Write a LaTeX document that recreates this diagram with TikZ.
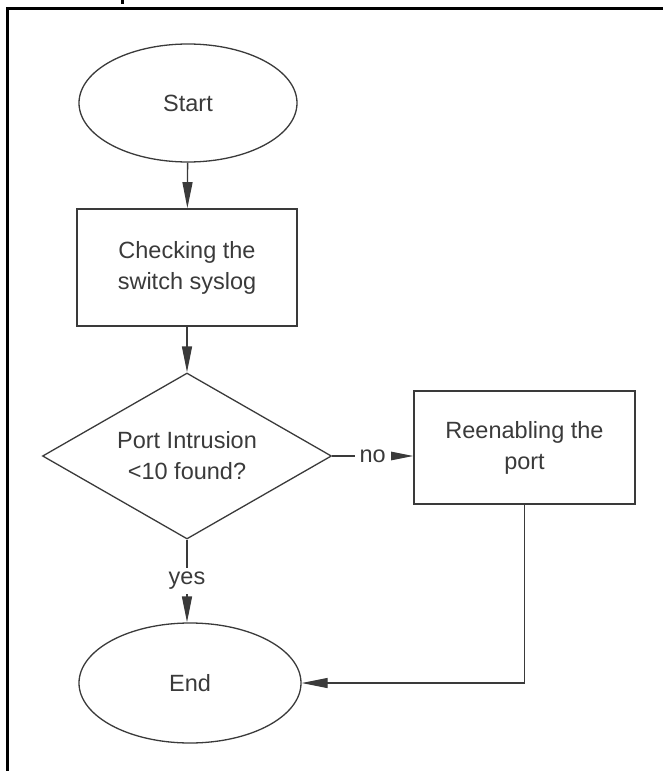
\documentclass[tikz,border=0pt]{standalone}
\usepackage{fontspec}
\setmainfont{Liberation Sans}
\usetikzlibrary{shapes.geometric,arrows.meta}
\definecolor{ink}{HTML}{3A3A3A}
\begin{document}
\begin{tikzpicture}[x=1pt,y=-1pt,
  every node/.style={font=\fontsize{23.5}{31}\selectfont, text=ink, align=center},
  term/.style={ellipse, draw=ink, line width=1.3pt, inner sep=0pt},
  proc/.style={rectangle, draw=ink, line width=1.6pt, inner sep=0pt},
  dec/.style={diamond, draw=ink, line width=1.3pt, minimum width=289pt, minimum height=166pt, inner sep=0pt, aspect=1.74},
  conn/.style={draw=ink, line width=1.3pt, -{Triangle[length=26pt,width=10pt]}},
  lbl/.style={fill=white, inner sep=5pt},
  frame/.style={draw=black, line width=3pt}]
\useasboundingbox (0,0) rectangle (663,771);
% frame
\draw[frame] (663,8.5) -- (7,8.5) -- (7,771);
\fill[black] (121,0) rectangle (124,4);
% nodes
\node[term, minimum width=218pt, minimum height=118pt] (start) at (188,103) {Start};
\node[proc, minimum width=220pt, minimum height=117pt] (check) at (187,267.5) {Checking the\\switch syslog};
\node[dec] (q) at (187,456) {Port Intrusion\\{<}10 found?};
\node[proc, minimum width=221pt, minimum height=113pt] (reen) at (524.5,447.5) {Reenabling the\\port};
\node[term, minimum width=222pt, minimum height=120pt] (end) at (190,683) {End};
% connectors
\draw[conn] (start) -- (check);
\draw[conn] (check) -- (q);
\draw[conn] (q.east) -- node[lbl] {no} (q.east -| reen.west);
\draw[conn] (q.south) -- node[lbl, inner sep=4pt] {yes} (q.south |- end.north);
\draw[conn] (reen.south) |- (end.east);
\end{tikzpicture}
\end{document}
